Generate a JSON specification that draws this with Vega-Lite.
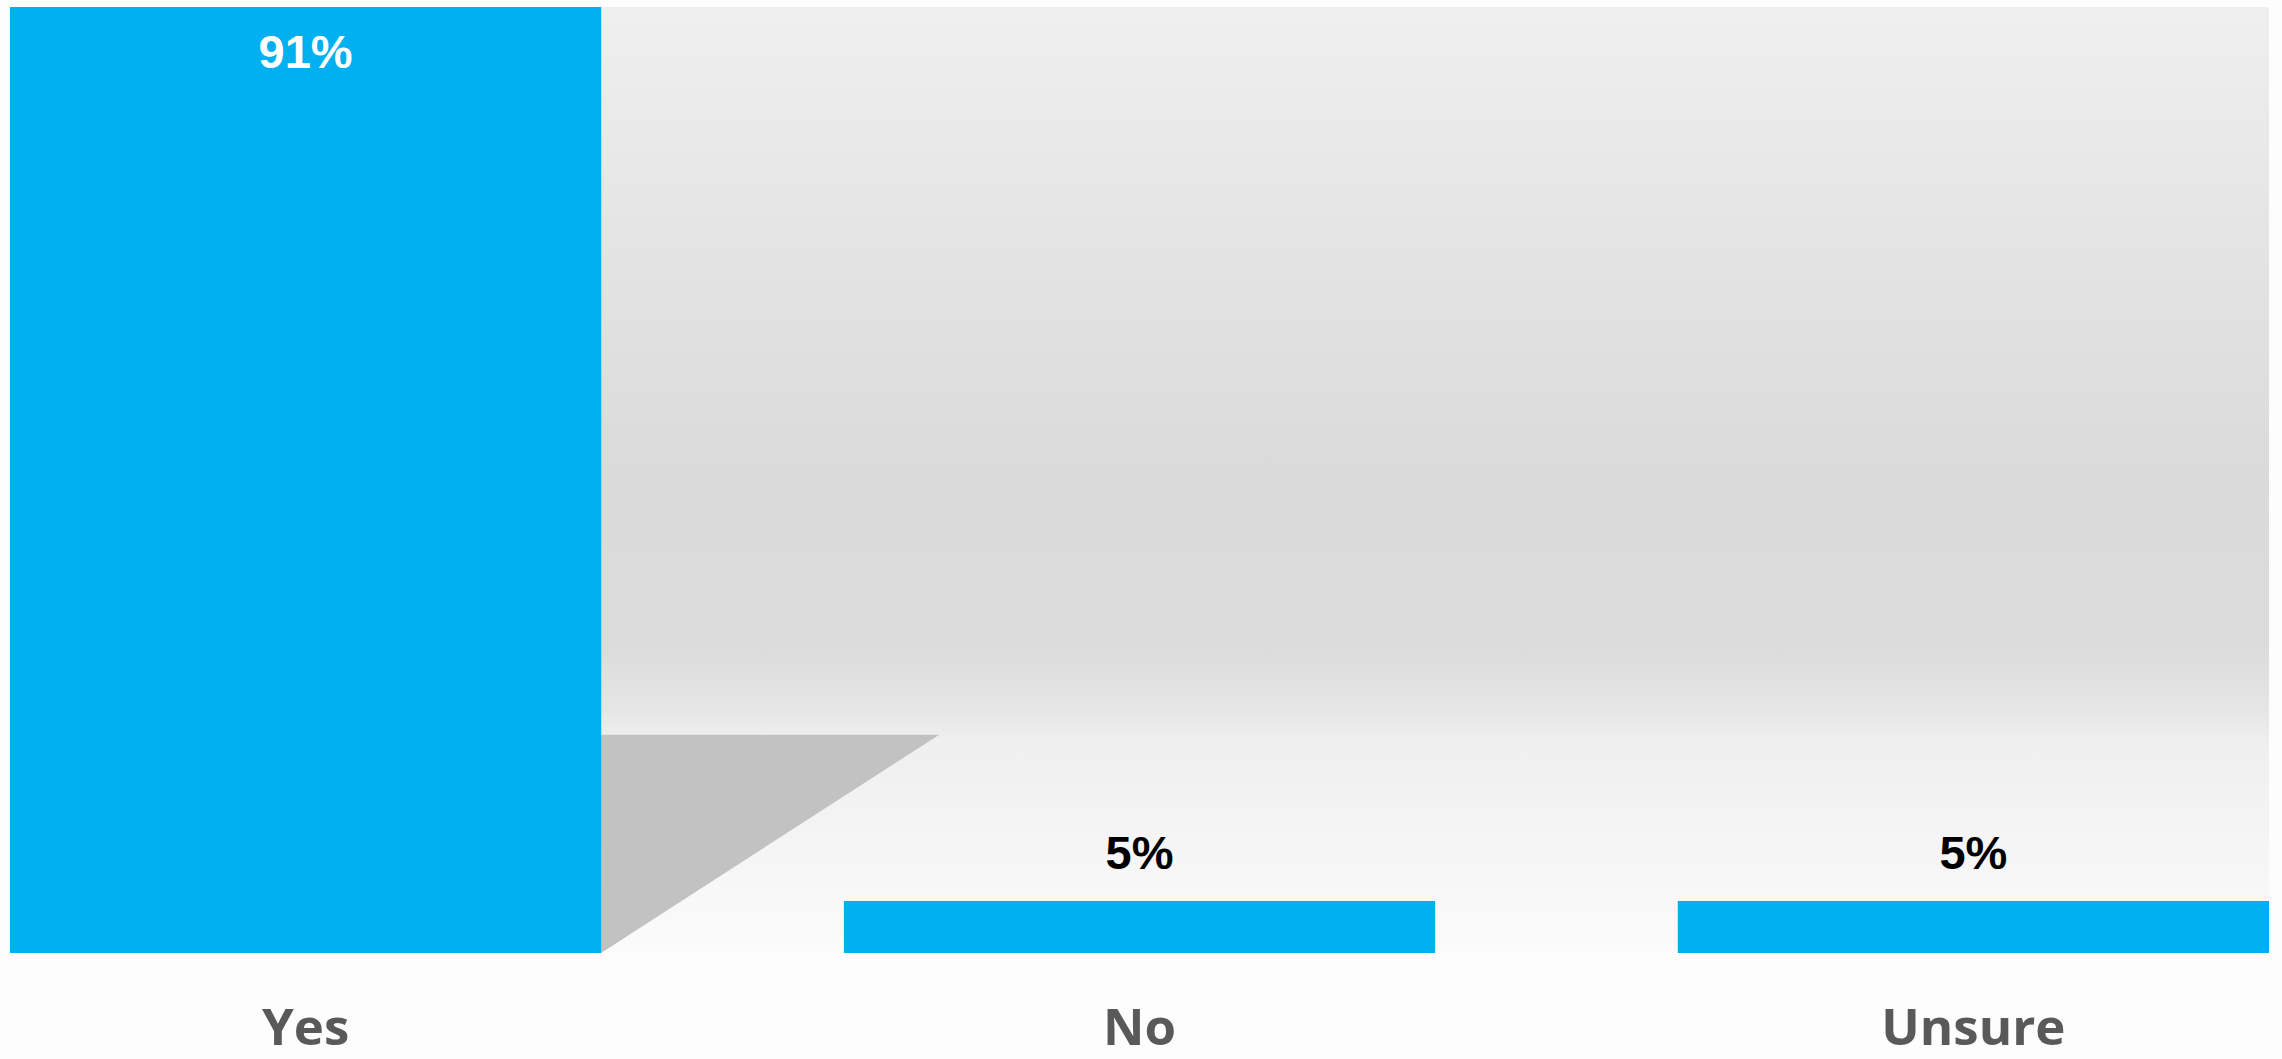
{
  "$schema": "https://vega.github.io/schema/vega-lite/v6.json",
  "autosize": {"type": "none"},
  "width": 2259,
  "height": 946,
  "padding": {"left": 10, "top": 7, "right": 13, "bottom": 106},
  "background": "#fdfdfd",
  "config": {
    "view": {
      "stroke": null,
      "fill": {
        "gradient": "linear",
        "x1": 0, "y1": 0, "x2": 0, "y2": 1,
        "stops": [
          {"offset": 0, "color": "#efefef"},
          {"offset": 0.25, "color": "#e4e4e4"},
          {"offset": 0.5, "color": "#dadada"},
          {"offset": 0.68, "color": "#dcdcdc"},
          {"offset": 0.745, "color": "#e6e6e6"},
          {"offset": 0.775, "color": "#efefef"},
          {"offset": 1, "color": "#fbfbfb"}
        ]
      }
    }
  },
  "datasets": {
    "answers": [
      {"answer": "Yes", "value": 91, "label": "91%"},
      {"answer": "No", "value": 5, "label": "5%"},
      {"answer": "Unsure", "value": 5, "label": "5%"}
    ],
    "shadow": [
      {"pos": 0.785, "top": 21, "bottom": 0},
      {"pos": 1.234, "top": 21, "bottom": 21}
    ]
  },
  "layer": [
    {
      "data": {"name": "shadow"},
      "mark": {"type": "area", "color": "#c2c2c2", "opacity": 1},
      "encoding": {
        "x": {"field": "pos", "type": "quantitative", "scale": {"domain": [0, 3], "nice": false, "zero": false}, "axis": null},
        "y": {"field": "top", "type": "quantitative", "scale": {"domain": [0, 91], "nice": false}, "axis": null},
        "y2": {"field": "bottom"}
      }
    },
    {
      "data": {"name": "answers"},
      "layer": [
        {
          "mark": {"type": "bar", "color": "#00b0f0"},
          "encoding": {
            "x": {
              "field": "answer", "type": "nominal", "sort": null,
              "scale": {"paddingInner": 0.291, "paddingOuter": 0},
              "axis": {
                "title": null, "ticks": false, "domain": false, "labelAngle": 0,
                "labelFont": "Open Sans", "labelFontWeight": "bold", "labelFontSize": 51,
                "labelColor": "#595959", "labelBaseline": "alphabetic", "labelPadding": 91,
                "labelLimit": 0
              }
            },
            "y": {"field": "value", "type": "quantitative", "scale": {"domain": [0, 91], "nice": false}, "axis": null}
          }
        },
        {
          "transform": [{"filter": "datum.value > 50"}],
          "mark": {"type": "text", "font": "Liberation Sans", "fontWeight": "bold", "fontSize": 47, "color": "white", "baseline": "alphabetic", "dy": 61},
          "encoding": {
            "x": {"field": "answer", "type": "nominal", "sort": null},
            "y": {"field": "value", "type": "quantitative"},
            "text": {"field": "label"}
          }
        },
        {
          "transform": [{"filter": "datum.value <= 50"}],
          "mark": {"type": "text", "font": "Liberation Sans", "fontWeight": "bold", "fontSize": 47, "color": "black", "baseline": "alphabetic", "dy": -32},
          "encoding": {
            "x": {"field": "answer", "type": "nominal", "sort": null},
            "y": {"field": "value", "type": "quantitative"},
            "text": {"field": "label"}
          }
        }
      ]
    }
  ],
  "resolve": {"scale": {"x": "independent"}}
}
